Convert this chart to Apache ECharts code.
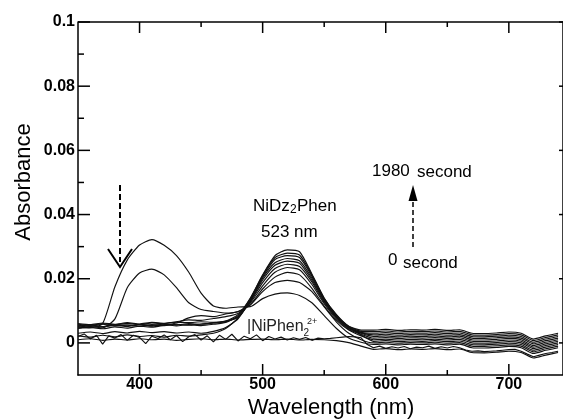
<!DOCTYPE html>
<html>
<head>
<meta charset="utf-8">
<script src="https://cdn.jsdelivr.net/npm/echarts@6/dist/echarts.min.js"></script>
<style>html,body{margin:0;padding:0;background:#fff;}#c{width:563px;height:419px;}</style>
</head>
<body>
<div id="c"></div>
<script>
// ---- data ----
const wavelengths = [350,360,370,380,390,400,410,420,430,440,450,460,470,480,490,500,510,520,530,540,550,560,570,580,590,600,610,620,630,640,650,660,670,680,690,700,710,720,730,740];
const spec410High = [0.0050,0.0047,0.0060,0.0175,0.0258,0.0305,0.0322,0.0304,0.0272,0.0220,0.0155,0.0115,0.0108,0.0112,0.0113,0.0138,0.0152,0.0156,0.0148,0.0125,0.0085,0.0045,0.0015,0.0002,-0.0005,-0.0003,-0.0006,-0.0004,-0.0005,-0.0003,-0.0006,-0.0004,-0.0015,-0.0016,-0.0014,-0.0011,-0.0015,-0.0033,-0.0023,-0.0015];
const spec410Low = [0.0046,0.0051,0.0047,0.0075,0.0172,0.0218,0.0230,0.0212,0.0172,0.0125,0.0104,0.0098,0.0093,0.0097,0.0118,0.0160,0.0188,0.0195,0.0188,0.0160,0.0112,0.0065,0.0030,0.0010,0.0000,0.0002,-0.0001,0.0001,0.0000,0.0002,-0.0001,0.0001,-0.0010,-0.0011,-0.0009,-0.0006,-0.0010,-0.0028,-0.0018,-0.0010];
const spec523a = [0.0045,0.0048,0.0044,0.0050,0.0046,0.0052,0.0049,0.0055,0.0062,0.0078,0.0085,0.0082,0.0090,0.0098,0.0120,0.0168,0.0205,0.0220,0.0212,0.0170,0.0115,0.0070,0.0040,0.0022,0.0010,0.0012,0.0009,0.0011,0.0010,0.0012,0.0009,0.0011,0.0000,-0.0001,0.0001,0.0004,0.0000,-0.0018,-0.0008,0.0000];
const spec523b = [0.0058,0.0055,0.0060,0.0056,0.0061,0.0057,0.0062,0.0060,0.0066,0.0072,0.0070,0.0076,0.0082,0.0092,0.0125,0.0178,0.0220,0.0235,0.0228,0.0182,0.0122,0.0074,0.0042,0.0027,0.0015,0.0017,0.0014,0.0016,0.0015,0.0017,0.0014,0.0016,0.0005,0.0004,0.0006,0.0009,0.0005,-0.0013,-0.0003,0.0005];
const spec523c = [0.0052,0.0056,0.0051,0.0057,0.0053,0.0058,0.0054,0.0059,0.0056,0.0060,0.0058,0.0062,0.0066,0.0082,0.0128,0.0188,0.0232,0.0245,0.0238,0.0190,0.0126,0.0078,0.0045,0.0030,0.0020,0.0022,0.0019,0.0021,0.0020,0.0022,0.0019,0.0021,0.0010,0.0009,0.0011,0.0014,0.0010,-0.0008,0.0002,0.0010];
const spec523d = [0.0060,0.0057,0.0062,0.0058,0.0063,0.0059,0.0064,0.0061,0.0065,0.0063,0.0066,0.0064,0.0068,0.0080,0.0130,0.0196,0.0242,0.0255,0.0248,0.0196,0.0130,0.0080,0.0047,0.0032,0.0025,0.0027,0.0024,0.0026,0.0025,0.0027,0.0024,0.0026,0.0015,0.0014,0.0016,0.0019,0.0015,-0.0003,0.0007,0.0015];
const spec523e = [0.0030,0.0034,0.0029,0.0035,0.0031,0.0036,0.0032,0.0035,0.0031,0.0034,0.0030,0.0036,0.0048,0.0075,0.0132,0.0202,0.0250,0.0263,0.0256,0.0202,0.0133,0.0082,0.0048,0.0033,0.0030,0.0032,0.0029,0.0031,0.0030,0.0032,0.0029,0.0031,0.0020,0.0019,0.0021,0.0024,0.0020,0.0002,0.0012,0.0020];
const spec523f = [0.0022,0.0018,0.0024,0.0019,0.0025,0.0020,0.0023,0.0018,0.0024,0.0021,0.0025,0.0030,0.0045,0.0078,0.0135,0.0206,0.0260,0.0272,0.0266,0.0208,0.0136,0.0085,0.0050,0.0025,0.0005,0.0007,0.0004,0.0006,0.0005,0.0007,0.0004,0.0006,-0.0005,-0.0006,-0.0004,-0.0001,-0.0005,-0.0023,-0.0013,-0.0005];
const spec523g = [0.0049,0.0053,0.0050,0.0055,0.0051,0.0056,0.0052,0.0057,0.0053,0.0057,0.0054,0.0058,0.0064,0.0085,0.0138,0.0210,0.0266,0.0280,0.0274,0.0212,0.0138,0.0086,0.0051,0.0036,0.0035,0.0037,0.0034,0.0036,0.0035,0.0037,0.0034,0.0036,0.0025,0.0024,0.0026,0.0029,0.0025,0.0007,0.0017,0.0025];
const spec523h = [0.0055,0.0052,0.0058,0.0053,0.0056,0.0051,0.0057,0.0054,0.0058,0.0055,0.0059,0.0062,0.0068,0.0088,0.0140,0.0212,0.0272,0.0290,0.0284,0.0215,0.0140,0.0088,0.0052,0.0040,0.0040,0.0042,0.0039,0.0041,0.0040,0.0042,0.0039,0.0041,0.0030,0.0029,0.0031,0.0034,0.0030,0.0012,0.0022,0.0030];
const specFlat = [0.0010,0.0013,0.0008,0.0012,0.0009,0.0013,0.0010,0.0012,0.0008,0.0011,0.0013,0.0010,0.0012,0.0009,0.0011,0.0012,0.0010,0.0012,0.0009,0.0011,0.0010,0.0007,0.0001,-0.0010,-0.0020,-0.0018,-0.0021,-0.0019,-0.0020,-0.0018,-0.0021,-0.0019,-0.0030,-0.0031,-0.0029,-0.0026,-0.0030,-0.0047,-0.0038,-0.0030];
const wavelengthsFine = [350,355,360,365,370,375,380,385,390,395,400,405,410,415,420,425,430,435,440,445,450,455,460,465,470,475,480,485,490,495,500,505,510,515,520,525,530,535,540,545,550,555,560,565,570,575,580,585,590,595,600,605,610,615,620,625,630,635,640,645,650,655,660,665,670,675,680,685,690,695,700,705,710,715,720,725,730,735,740];
const specNiPhen = [0.0020,0.0028,0.0012,0.0024,-0.0004,0.0022,0.0015,0.0026,0.0008,0.0024,0.0017,-0.0002,0.0021,0.0014,0.0025,0.0010,0.0023,0.0004,0.0019,0.0026,0.0009,0.0022,0.0003,0.0024,0.0011,0.0027,0.0006,0.0021,0.0013,0.0025,0.0007,0.0020,0.0012,0.0018,0.0009,0.0016,0.0011,0.0017,0.0008,0.0015,0.0013,0.0014,0.0016,0.0018,0.0020,0.0019,0.0016,-0.0005,-0.0015,-0.0010,-0.0017,-0.0012,-0.0016,-0.0011,-0.0018,-0.0013,-0.0015,-0.0010,-0.0017,-0.0012,-0.0016,-0.0011,-0.0015,-0.0022,-0.0026,-0.0025,-0.0027,-0.0026,-0.0025,-0.0023,-0.0021,-0.0020,-0.0026,-0.0035,-0.0043,-0.0038,-0.0033,-0.0030,-0.0026];

const xMajorTicks = [400,500,600,700];
const xMinorTicks = [450,550,650];
const yMajorTicks = [0,0.02,0.04,0.06,0.08,0.1];
const yMinorTicks = [0.01,0.03,0.05,0.07,0.09];

const X_MIN = 350, X_MAX = 744, Y_MIN = -0.01, Y_MAX = 0.1;
const FONT = "'Liberation Sans', Arial, Helvetica, sans-serif";

// grid geometry (pixels)
const G_LEFT = 78, G_RIGHT = -1, G_TOP = 22, G_BOTTOM = 44, W = 563, H = 419;
const xPerPx = (X_MAX - X_MIN) / (W - G_LEFT - G_RIGHT);
const yPerPx = (Y_MAX - Y_MIN) / (H - G_TOP - G_BOTTOM);

const chart = echarts.init(document.getElementById('c'), null, {renderer:'canvas'});
const curves = [spec410High, spec410Low, spec523a, spec523b, spec523c, spec523d, spec523e, spec523f, spec523g, spec523h, specFlat];
const series = curves.map((c)=>({
  type:'line', showSymbol:false, smooth:0.2, z:2,
  lineStyle:{color:'#111', width:1.15}, data: wavelengths.map((w,i)=>[w,c[i]])
}));
series.push({type:'line', showSymbol:false, smooth:false, z:2,
  lineStyle:{color:'#111', width:1.15}, data: wavelengthsFine.map((w,i)=>[w,specNiPhen[i]])});

// frame and tick marks as short line segments in data space
function frameSeg(pts){
  return {type:'line', data:pts, showSymbol:false, clip:false, silent:true, z:5,
    lineStyle:{color:'#000', width:1.5, cap:'butt'}};
}
series.push(frameSeg([[X_MIN, Y_MAX],[X_MAX, Y_MAX]]));
series.push(frameSeg([[X_MAX, Y_MAX],[X_MAX, Y_MIN]]));
xMajorTicks.forEach(v => {
  series.push(frameSeg([[v, Y_MIN],[v, Y_MIN + 11*yPerPx]]));
  series.push(frameSeg([[v, Y_MAX],[v, Y_MAX - 11*yPerPx]]));
});
xMinorTicks.forEach(v => {
  series.push(frameSeg([[v, Y_MIN],[v, Y_MIN + 5*yPerPx]]));
  series.push(frameSeg([[v, Y_MAX],[v, Y_MAX - 5*yPerPx]]));
});
yMajorTicks.forEach(v => {
  series.push(frameSeg([[X_MIN, v],[X_MIN + 12*xPerPx, v]]));
  series.push(frameSeg([[X_MAX, v],[X_MAX - 4*xPerPx, v]]));
});
yMinorTicks.forEach(v => {
  series.push(frameSeg([[X_MIN, v],[X_MIN + 6*xPerPx, v]]));
});

function txt(x,y,s,size,fill){
  return {type:'text', x:x, y:y, z:100, style:{text:s, fill:fill||'#000', font:'normal '+size+'px '+FONT, textAlign:'left', textVerticalAlign:'middle'}};
}
const annotations = [
  {type:'line', z:100, shape:{x1:120,y1:185,x2:120,y2:262}, style:{stroke:'#000', lineWidth:2, lineDash:[6,3]}},
  {type:'polyline', z:100, shape:{points:[[108,249],[120,267],[132,249]]}, style:{stroke:'#000', lineWidth:2, fill:null}},
  {type:'line', z:100, shape:{x1:413,y1:247,x2:413,y2:201}, style:{stroke:'#000', lineWidth:1.5, lineDash:[5,3]}},
  {type:'polygon', z:100, shape:{points:[[408.5,201],[413,185],[417.5,201]]}, style:{fill:'#000'}},
  txt(253,206.5,'NiDz',17),
  txt(290,210,'2',12),
  txt(297,206.5,'Phen',17),
  txt(261,232.5,'523 nm',17),
  txt(372,171.5,'1980',17),
  txt(417,172.5,'second',17),
  txt(388,260.5,'0',17),
  txt(403,263.5,'second',17),
  txt(247,327,'|NiPhen',16,'#222'),
  txt(303.5,333,'2',10,'#222'),
  txt(307,322,'2+',9,'#222'),
  {type:'text', x:331, y:408, z:100, style:{text:'Wavelength (nm)', fill:'#000', font:'normal 22px '+FONT, textAlign:'center', textVerticalAlign:'middle'}},
  {type:'text', x:24, y:182, rotation:Math.PI/2, z:100, style:{text:'Absorbance', fill:'#000', font:'normal 22px '+FONT, textAlign:'center', textVerticalAlign:'middle'}}
];

chart.setOption({
  animation:false,
  backgroundColor:'#fff',
  grid:{left:G_LEFT, right:G_RIGHT, top:G_TOP, bottom:G_BOTTOM},
  xAxis:{type:'value', min:X_MIN, max:X_MAX,
    axisLine:{show:true, onZero:false, lineStyle:{color:'#000', width:1.5}},
    axisTick:{show:false},
    axisLabel:{customValues:xMajorTicks, fontFamily:FONT, fontWeight:'bold', fontSize:16, color:'#000', margin:2},
    splitLine:{show:false}},
  yAxis:{type:'value', min:Y_MIN, max:Y_MAX,
    axisLine:{show:true, onZero:false, lineStyle:{color:'#000', width:1.5}},
    axisTick:{show:false},
    axisLabel:{customValues:yMajorTicks, fontFamily:FONT, fontWeight:'bold', fontSize:16, color:'#000', margin:3},
    splitLine:{show:false}},
  series: series,
  graphic: annotations
});
</script>
</body>
</html>
